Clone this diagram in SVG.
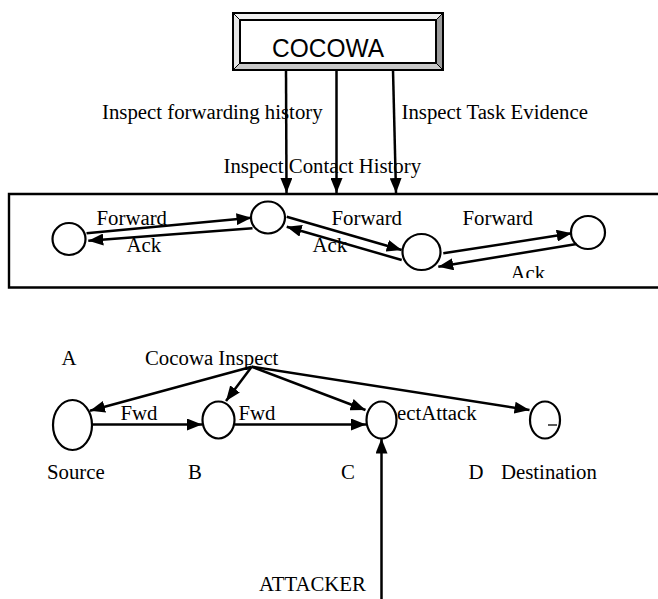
<svg xmlns="http://www.w3.org/2000/svg" width="658" height="599" viewBox="0 0 658 599">
  <style>
    .lbl { font-family: "Liberation Serif", "Times New Roman", serif; font-size: 20.8px; fill: #000; }
    .node { fill: #fff; stroke: #000; stroke-width: 2.2; }
    .edge { fill: none; stroke: #000; stroke-width: 2.5; }
    .title { font-family: "Liberation Sans", Arial, sans-serif; font-size: 26px; fill: #000; }
  </style>
  <defs>
    <marker id="ah" viewBox="0 0 15 12" refX="15" refY="6" markerWidth="15" markerHeight="12" markerUnits="userSpaceOnUse" orient="auto">
      <path d="M0,0 L15,6 L0,12 z" fill="#000"/>
    </marker>
    <clipPath id="ackClip">
      <rect x="480" y="250" width="100" height="28"/>
    </clipPath>
  </defs>
  <rect width="658" height="599" fill="#fff"/>

  <!-- COCOWA bevelled box -->
  <g id="cocowa">
    <rect x="233" y="13" width="210" height="57" fill="#fff" stroke="#000" stroke-width="2"/>
    <polygon points="233,13 443,13 436,20 240,20" fill="#f0f0f0"/>
    <polygon points="233,13 240,20 240,63 233,70" fill="#e6e6e6"/>
    <polygon points="443,13 443,70 436,63 436,20" fill="#9a9a9a"/>
    <polygon points="233,70 443,70 436,63 240,63" fill="#c8c8c8"/>
    <rect x="233" y="13" width="210" height="57" fill="none" stroke="#000" stroke-width="2"/>
    <line x1="233" y1="13" x2="240" y2="20" stroke="#000" stroke-width="1"/>
    <line x1="443" y1="13" x2="436" y2="20" stroke="#000" stroke-width="1"/>
    <line x1="233" y1="70" x2="240" y2="63" stroke="#000" stroke-width="1"/>
    <line x1="443" y1="70" x2="436" y2="63" stroke="#000" stroke-width="1"/>
    <rect x="240" y="20" width="196" height="43" fill="#fff" stroke="#000" stroke-width="2"/>
    <text class="title" x="272" y="56.5" textLength="112" lengthAdjust="spacingAndGlyphs">COCOWA</text>
  </g>

  <!-- network frame -->
  <g id="frame">
    <path d="M662,194 H9 V287.5 H662" fill="none" stroke="#000" stroke-width="2.4"/>
  </g>

  <!-- upper network nodes -->
  <g id="n1"><ellipse class="node" cx="69" cy="239" rx="16.5" ry="16"/></g>
  <g id="n2"><ellipse class="node" cx="268" cy="217.5" rx="17" ry="16"/></g>
  <g id="n3"><ellipse class="node" cx="421.5" cy="252" rx="19" ry="18"/></g>
  <g id="n4"><ellipse class="node" cx="588" cy="232.5" rx="17" ry="16.5"/></g>

  <!-- lower network nodes -->
  <g id="source"><ellipse class="node" cx="72.5" cy="425" rx="19.5" ry="25"/></g>
  <g id="b"><ellipse class="node" cx="218.5" cy="420" rx="16" ry="18.5"/></g>
  <g id="c"><ellipse class="node" cx="381.5" cy="420" rx="15" ry="18.5"/></g>
  <g id="d"><ellipse class="node" cx="545" cy="420" rx="15" ry="18.5"/>
    <line x1="548" y1="425" x2="557" y2="425" stroke="#000" stroke-width="1.3"/></g>

  <!-- connectors -->
  <g id="connectors">
    <line class="edge" x1="286" y1="70" x2="286.5" y2="193" marker-end="url(#ah)"/>
    <line class="edge" x1="336.5" y1="70" x2="336.5" y2="193" marker-end="url(#ah)"/>
    <line class="edge" x1="393" y1="70" x2="396" y2="193" marker-end="url(#ah)"/>

    <line class="edge" x1="86.5" y1="233.3" x2="251.5" y2="217.7" marker-end="url(#ah)"/>
    <line class="edge" x1="252.5" y1="228.3" x2="88.3" y2="240.7" marker-end="url(#ah)"/>
    <line class="edge" x1="286.7" y1="216.7" x2="401.7" y2="250" marker-end="url(#ah)"/>
    <line class="edge" x1="401.7" y1="260" x2="286.7" y2="226.7" marker-end="url(#ah)"/>
    <line class="edge" x1="443.3" y1="253.3" x2="571.7" y2="233.3" marker-end="url(#ah)"/>
    <line class="edge" x1="576.7" y1="244" x2="438.3" y2="266.7" marker-end="url(#ah)"/>

    <line class="edge" x1="251.7" y1="366.7" x2="90" y2="410.7" marker-end="url(#ah)"/>
    <line class="edge" x1="251.7" y1="366.7" x2="226" y2="401" marker-end="url(#ah)"/>
    <line class="edge" x1="251.7" y1="366.7" x2="365.5" y2="410" marker-end="url(#ah)"/>
    <line class="edge" x1="251.7" y1="366.7" x2="529.5" y2="410" marker-end="url(#ah)"/>

    <line class="edge" x1="92" y1="424.5" x2="202" y2="424.5" marker-end="url(#ah)"/>
    <line class="edge" x1="234.5" y1="424.5" x2="366" y2="424.5" marker-end="url(#ah)"/>
    <line class="edge" x1="381.5" y1="599" x2="381.5" y2="438.5" marker-end="url(#ah)"/>
  </g>

  <!-- labels -->
  <g id="labels">
    <text class="lbl" x="102" y="119" font-size="21.2">Inspect forwarding history</text>
    <text class="lbl" x="401.5" y="119" font-size="21.2">Inspect Task Evidence</text>
    <text class="lbl" x="223.5" y="173" font-size="21.2">Inspect Contact History</text>

    <text class="lbl" x="96.5" y="225">Forward</text>
    <text class="lbl" x="126.5" y="251.5">Ack</text>
    <text class="lbl" x="331.5" y="225">Forward</text>
    <text class="lbl" x="312.5" y="251.5">Ack</text>
    <text class="lbl" x="462.5" y="225">Forward</text>
    <text class="lbl" x="510.5" y="280" clip-path="url(#ackClip)">Ack</text>

    <text class="lbl" x="61.5" y="365">A</text>
    <text class="lbl" x="145" y="365">Cocowa Inspect</text>
    <text class="lbl" x="120.5" y="420">Fwd</text>
    <text class="lbl" x="238.5" y="420">Fwd</text>
    <text class="lbl" x="397" y="419.5">ectAttack</text>

    <text class="lbl" x="47" y="479">Source</text>
    <text class="lbl" x="188" y="479">B</text>
    <text class="lbl" x="341" y="479">C</text>
    <text class="lbl" x="468.5" y="479">D</text>
    <text class="lbl" x="501" y="479">Destination</text>
    <text class="lbl" x="259" y="591">ATTACKER</text>
  </g>
</svg>
